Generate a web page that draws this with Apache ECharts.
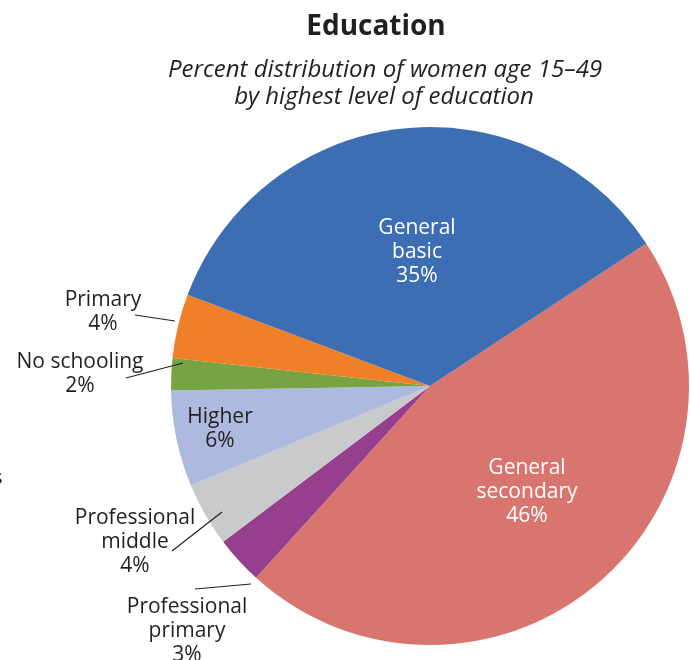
<!DOCTYPE html>
<html>
<head>
<meta charset="utf-8">
<script src="https://cdn.jsdelivr.net/npm/echarts@6/dist/echarts.min.js"></script>
<style>html,body{margin:0;padding:0;background:#fff}#c{width:690px;height:660px}</style>
</head>
<body>
<div id="c"></div>
<script>
const categories = ['General secondary', 'Professional primary', 'Professional middle', 'Higher', 'No schooling', 'Primary', 'General basic'];
const labelNames = ['General\nsecondary', 'Professional\nprimary', 'Professional\nmiddle', 'Higher', 'No schooling', 'Primary', 'General\nbasic'];
const values = [46, 3, 4, 6, 2, 4, 35];
const colors = ['#D9756F', '#953F8E', '#C9CACC', '#ADB9DE', '#77A443', '#F07F2A', '#3D6EB4'];
const titleText = 'Education';
const subtitleLines = ['Percent distribution of women age 15–49', 'by highest level of education'];

const FONT = 'Open Sans';
const labelPlace = [
  { x: 527, y: 492 },
  { x: 187, y: 631, line: [[195, 589], [251, 584]] },
  { x: 135, y: 542, line: [[172, 551], [222, 512]] },
  { x: 220, y: 429 },
  { x: 80, y: 374, line: [[126, 378], [183, 363]] },
  { x: 103, y: 312, line: [[135, 315], [175, 321]] },
  { x: 417, y: 252 }
];
const insideIdx = [0, 3, 6];
const whiteIdx = [0, 6];

const pieBase = {
  type: 'pie',
  center: [430, 386],
  radius: [0, 259],
  startAngle: 33.4,
  clockwise: true,
  avoidLabelOverlap: false,
  silent: true
};

const chart = echarts.init(document.getElementById('c'));
chart.setOption({
  animation: false,
  graphic: [
    { type: 'text', x: 376, y: 27, style: { text: titleText, font: 'bold 28px "' + FONT + '"', fill: '#231f20', textAlign: 'center', textVerticalAlign: 'middle' } },
    { type: 'text', x: 385, y: 70, style: { text: subtitleLines[0], font: 'italic 24px "' + FONT + '"', fill: '#231f20', textAlign: 'center', textVerticalAlign: 'middle' } },
    { type: 'text', x: 384, y: 97, style: { text: subtitleLines[1], font: 'italic 24px "' + FONT + '"', fill: '#231f20', textAlign: 'center', textVerticalAlign: 'middle' } },
    { type: 'text', x: -7, y: 478, style: { text: 's', font: '20px "' + FONT + '"', fill: '#231f20', textAlign: 'left', textVerticalAlign: 'middle' } }
  ],
  series: [
    Object.assign({}, pieBase, {
      z: 2,
      label: { show: false },
      labelLine: { show: false },
      itemStyle: { borderWidth: 0 },
      data: values.map((v, i) => ({ name: categories[i], value: v, itemStyle: { color: colors[i] } }))
    }),
    Object.assign({}, pieBase, {
      z: 5,
      itemStyle: { color: 'rgba(0,0,0,0)', borderWidth: 0 },
      labelLine: { show: true, smooth: false, lineStyle: { color: '#231f20', width: 1.2 } },
      data: values.map((v, i) => ({
        name: categories[i],
        value: v,
        label: {
          show: true,
          position: insideIdx.includes(i) ? 'inside' : 'outside',
          formatter: labelNames[i] + '\n' + v + '%',
          color: whiteIdx.includes(i) ? '#ffffff' : '#231f20',
          fontFamily: FONT,
          fontSize: 21,
          lineHeight: 24,
          align: 'center'
        },
        labelLine: { show: !insideIdx.includes(i) }
      })),
      labelLayout: function (p) {
        const lp = labelPlace[p.dataIndex];
        const out = { x: lp.x, y: lp.y, align: 'center', verticalAlign: 'middle', hideOverlap: false, moveOverlap: null };
        if (lp.line) {
          const a = lp.line[0], b = lp.line[1];
          out.labelLinePoints = [a, [(a[0] + b[0]) / 2, (a[1] + b[1]) / 2], b];
        }
        return out;
      }
    })
  ]
});
</script>
</body>
</html>
